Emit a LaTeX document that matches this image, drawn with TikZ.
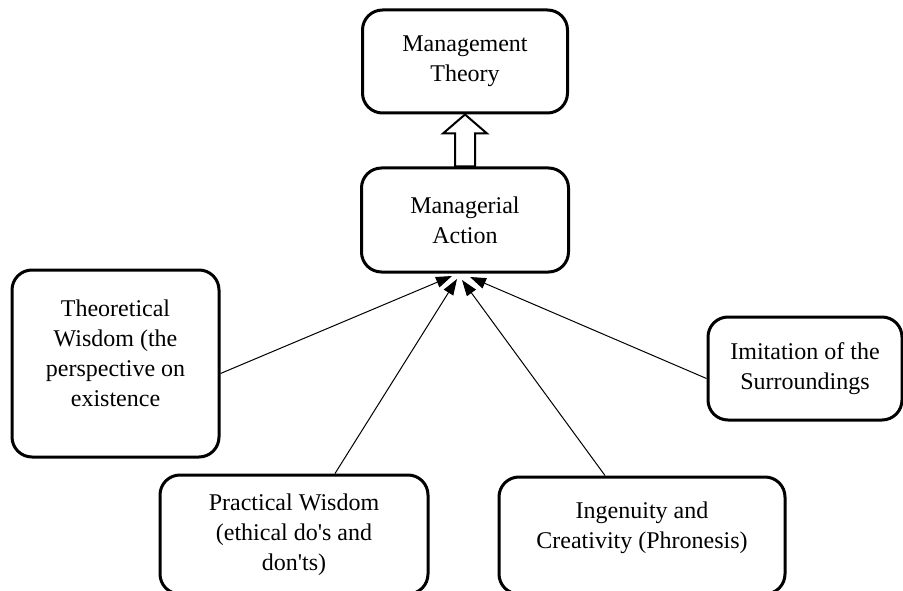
\documentclass[tikz,border=0pt]{standalone}
\usepackage{fontspec}
\setmainfont{Liberation Serif}
\usetikzlibrary{arrows.meta,calc}

\begin{document}
\begin{tikzpicture}[x=1pt,y=-1pt,
	wbox/.style={draw,line width=3pt,rounded corners=20pt,align=center,inner sep=0pt,font=\fontsize{24}{30}\selectfont},
	feed/.style={-{Triangle[length=16pt,width=11pt]},line width=1pt},
	hollow/.style={draw,line width=2pt,fill=white,line join=miter}]
	\useasboundingbox (0,0) rectangle (903,591);
	\clip (0,0) rectangle (903,591);

	\node[wbox,minimum width=205pt,minimum height=103pt] (mt) at (465,61.5) {Management\\Theory};
	\node[wbox,minimum width=207pt,minimum height=104pt] (ma) at (465,220) {Managerial\\Action};
	\node[wbox,minimum width=207pt,minimum height=187pt] (theo) at (115.5,363.5) {Theoretical\\Wisdom (the\\perspective on\\existence\\[-10pt]\mbox{}};
	\node[wbox,minimum width=194pt,minimum height=103pt] (imit) at (805,368.5) {Imitation of the\\Surroundings};
	\node[wbox,minimum width=268pt,minimum height=119pt] (prac) at (294,534.5) {Practical Wisdom\\(ethical do\textquotesingle s and\\don\textquotesingle ts)};
	\node[wbox,minimum width=286pt,minimum height=117pt] (ingen) at (642,535.5) {Ingenuity and\\Creativity (Phronesis)\\[-10pt]\mbox{}};

	% hollow arrow up to the theory
	\draw[hollow] ($(ma.north)+(-10,0)$) -- ++(0,-33) -- ++(-12,0) -- (mt.south)
		-- ($(ma.north)+(22,-33)$) -- ++(-12,0) -- ++(0,33) -- cycle;

	\coordinate (tipA) at (452,276);
	\coordinate (tipB) at (457,279);
	\coordinate (tipC) at (462,280);
	\coordinate (tipD) at (470,277);
	\draw[feed] ($(theo.east)+(0,10)$) -- (tipA);
	\draw[feed] ($(prac.north)+(41,0)$) -- (tipB);
	\draw[feed] ($(ingen.north)+(-37,0)$) -- (tipC);
	\draw[feed] ($(imit.west)+(0,10)$) -- (tipD);
\end{tikzpicture}
\end{document}
